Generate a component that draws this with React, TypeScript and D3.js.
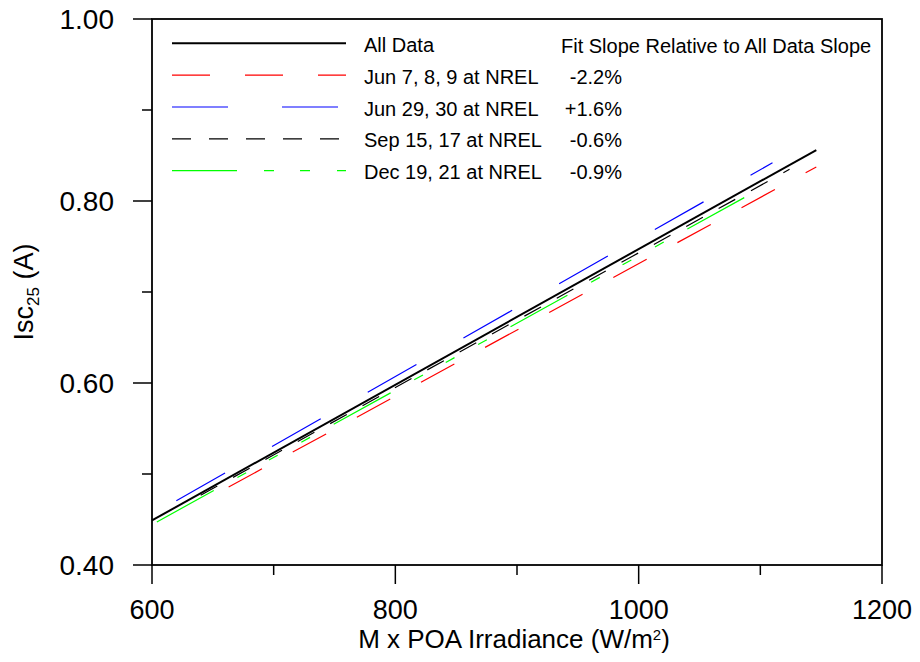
import React from "react";
import * as d3 from "d3";

const seriesNames = [
  "All Data",
  "Jun 7, 8, 9 at NREL",
  "Jun 29, 30 at NREL",
  "Sep 15, 17 at NREL",
  "Dec 19, 21 at NREL",
];
const slopeLabels = ["", "-2.2%", "+1.6%", "-0.6%", "-0.9%"];
const xStart = [600, 663, 620, 640, 604];
const xEnd = [1146, 1146, 1110, 1124, 1103];
const yStart = [0.449, 0.4857, 0.4707, 0.4766, 0.4473];
const yEnd = [0.856, 0.8374, 0.842, 0.8348, 0.8157];

const xMajor = [600, 800, 1000, 1200];
const xMinor = [700, 900, 1100];
const yMajor = [0.4, 0.6, 0.8, 1.0];
const yMinor = [0.5, 0.7, 0.9];

const colors = ["#000000", "#ff0000", "#0000ff", "#000000", "#00ff00"];
const dashes = ["none", "38,35", "56,54", "19,18", "65,27,10,26,10,27,10,27"];
const widths = [2, 1.2, 1.2, 1.2, 1.2];

const FONT = "Arial, 'Liberation Sans', sans-serif";

export default function App() {
  const W = 920,
    H = 662;
  const L = 152,
    R = 882,
    T = 19,
    B = 565;
  const x = d3.scaleLinear().domain([600, 1200]).range([L, R]);
  const y = d3.scaleLinear().domain([0.4, 1.0]).range([B, T]);
  const line = d3
    .line<[number, number]>()
    .x((d) => x(d[0]))
    .y((d) => y(d[1]));

  const order = [1, 2, 3, 4, 0];
  const legendY = (i: number) => 43.3 + i * 31.85;

  return (
    <svg
      width={W}
      height={H}
      style={{ position: "absolute", left: 0, top: 0, background: "#fff" }}
      fontFamily={FONT}
    >
      <rect x={0} y={0} width={W} height={H} fill="#fff" />
      {/* series */}
      {order.map((i) => (
        <path
          key={"s" + i}
          d={line([
            [xStart[i], yStart[i]],
            [xEnd[i], yEnd[i]],
          ]) as string}
          fill="none"
          stroke={colors[i]}
          strokeWidth={widths[i]}
          strokeDasharray={dashes[i]}
        />
      ))}
      {/* frame */}
      <rect x={L} y={T} width={R - L} height={B - T} fill="none" stroke="#000" strokeWidth={1.8} />
      {/* y ticks */}
      {yMajor.map((v) => (
        <g key={"ym" + v}>
          <line x1={L - 19} x2={L} y1={y(v)} y2={y(v)} stroke="#000" strokeWidth={1.5} />
          <text x={114} y={y(v)} dy="0.36em" textAnchor="end" fontSize={28}>
            {d3.format(".2f")(v)}
          </text>
        </g>
      ))}
      {yMinor.map((v) => (
        <line key={"yn" + v} x1={L - 10} x2={L} y1={y(v)} y2={y(v)} stroke="#000" strokeWidth={1.5} />
      ))}
      {/* x ticks */}
      {xMajor.map((v) => (
        <g key={"xm" + v}>
          <line x1={x(v)} x2={x(v)} y1={B} y2={B + 19} stroke="#000" strokeWidth={1.5} />
          <text x={x(v)} y={619} textAnchor="middle" fontSize={27}>
            {v}
          </text>
        </g>
      ))}
      {xMinor.map((v) => (
        <line key={"xn" + v} x1={x(v)} x2={x(v)} y1={B} y2={B + 10} stroke="#000" strokeWidth={1.5} />
      ))}
      {/* axis titles */}
      <text x={(L + R) / 2 - 3} y={648} textAnchor="middle" fontSize={26}>
        M x POA Irradiance (W/m
        <tspan fontSize={15} dy={-8}>
          2
        </tspan>
        <tspan dy={8}>)</tspan>
      </text>
      <text
        transform={`translate(33,${(T + B) / 2}) rotate(-90)`}
        textAnchor="middle"
        fontSize={27}
      >
        Isc
        <tspan fontSize={17} dy={6}>
          25
        </tspan>
        <tspan dy={-6}> (A)</tspan>
      </text>
      {/* legend */}
      {seriesNames.map((name, i) => (
        <g key={"lg" + i}>
          <line
            x1={172}
            x2={346}
            y1={legendY(i)}
            y2={legendY(i)}
            stroke={colors[i]}
            strokeWidth={widths[i]}
            strokeDasharray={dashes[i]}
          />
          <text x={364} y={legendY(i) + 8.5} fontSize={20}>
            {name}
          </text>
          {slopeLabels[i] && (
            <text x={622} y={legendY(i) + 8.5} textAnchor="end" fontSize={20}>
              {slopeLabels[i]}
            </text>
          )}
        </g>
      ))}
      <text x={561} y={legendY(0) + 9.5} fontSize={20}>
        Fit Slope Relative to All Data Slope
      </text>
    </svg>
  );
}
